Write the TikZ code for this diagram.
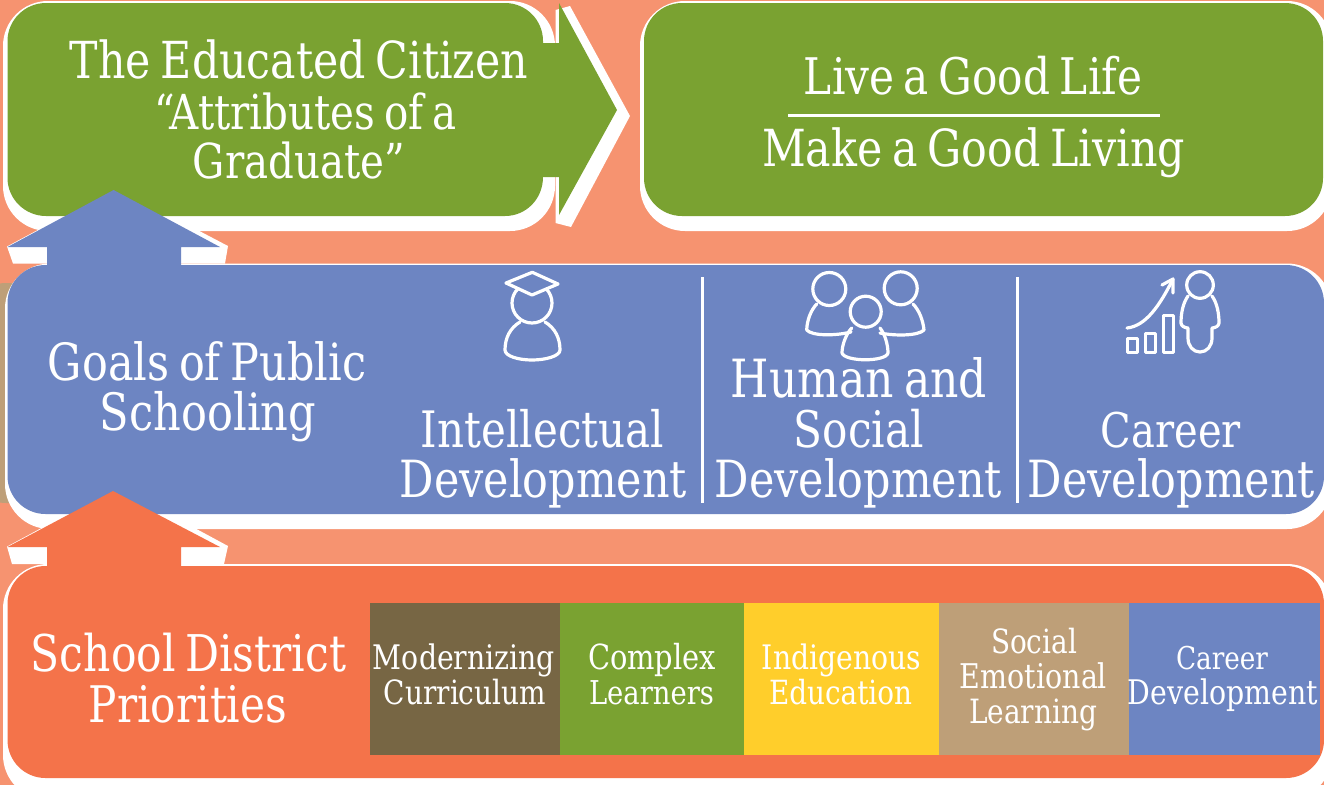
\documentclass[tikz,border=0pt]{standalone}
\usepackage{fontspec}
\usepackage{graphicx}
\setmainfont{DejaVu Serif Condensed}[WordSpace=0.72]
\definecolor{salmon}{HTML}{F69370}
\definecolor{leaf}{HTML}{7AA231}
\definecolor{bluebar}{HTML}{6D85C2}
\definecolor{orangebar}{HTML}{F4734A}
\definecolor{brownbox}{HTML}{776644}
\definecolor{yellowbox}{HTML}{FFCE2B}
\definecolor{tanbox}{HTML}{BE9F78}
\newcommand{\fitw}[2]{\resizebox{#1pt}{!}{\scalebox{0.93}[1]{#2}}}
\newcommand{\rrect}[6]{% colour x1 y1 x2 y2 r
  \pgfmathsetmacro{\kk}{#6*0.448}
  \fill[#1] (#2+#6,#3) -- (#4-#6,#3) .. controls (#4-\kk,#3) and (#4,#3+\kk) .. (#4,#3+#6)
  -- (#4,#5-#6) .. controls (#4,#5-\kk) and (#4-\kk,#5) .. (#4-#6,#5)
  -- (#2+#6,#5) .. controls (#2+\kk,#5) and (#2,#5-\kk) .. (#2,#5-#6)
  -- (#2,#3+#6) .. controls (#2,#3+\kk) and (#2+\kk,#3) .. (#2+#6,#3) -- cycle;}
\tikzset{
  tx/.style={anchor=base,inner sep=0pt,outer sep=0pt,text=white},
  icon/.style={draw=white,line width=3.2pt,line join=round,line cap=round},
  divider/.style={draw=white,line width=3pt}
}
\begin{document}
\begin{tikzpicture}[x=1pt,y=-1pt]
\useasboundingbox (0,0) rectangle (1324,785);
\clip (0,0) rectangle (1324,785);
\fill[salmon] (0,0) rectangle (1324,785);
% tan sliver behind the blue bar
\rrect{tanbox}{-30}{283}{60}{503}{36}
% white under the arrow heads
\fill[white] (113.6,186) -- (228,246) -- (225,263.5) -- (13,263.5) -- (7,246.5) -- (60,218) -- cycle;
\fill[white] (113,484) -- (228,546) -- (224,564) -- (12,564) -- (7,546.6) -- (60,518) -- cycle;
% left green arrow
\rrect{white}{3}{1}{555}{231}{45}
\fill[white] (555.5,10) -- (570,6) -- (630,116) -- (571,227) -- (555.5,223) -- cycle;
\fill[leaf] (46,3) -- (505,3) .. controls (526,3) and (543,20) .. (543,41) -- (543,43) -- (559,43) -- (559,3) -- (617,110) -- (559,215) -- (559,177) -- (543,177) .. controls (543,199) and (526,216) .. (505,216) -- (46,216) .. controls (25,216) and (7.5,199) .. (7.5,178) -- (7.5,41) .. controls (7.5,20) and (25,3) .. (46,3) -- cycle;
% right green box
\rrect{white}{640}{1}{1332}{231}{45}
\rrect{leaf}{644}{3}{1323}{216}{38}
\draw[white,line width=3pt] (788,115) -- (1160,115);
% blue bar
\rrect{white}{5}{263.5}{1332}{529}{45}
\fill[bluebar] (113.6,190) -- (220,247) -- (181,247) -- (181,270) -- (47,270) -- (47,247) -- (7.5,247) -- cycle;
\rrect{bluebar}{7.5}{265}{1324}{514}{38}
\draw[divider] (702,277) -- (702,503);
\draw[divider] (1017,277) -- (1017,503);
% orange bar
\rrect{white}{3}{564}{1332}{800}{45}
\fill[orangebar] (113,491) -- (220,547) -- (181,547) -- (181,570) -- (47,570) -- (47,547) -- (7.5,547) -- cycle;
\rrect{orangebar}{7.5}{566}{1324}{778}{38}
% priority boxes
\fill[brownbox] (370,603) rectangle (560,755);
\fill[leaf] (560,603) rectangle (744,755);
\fill[yellowbox] (744,603) rectangle (939,755);
\fill[tanbox] (939,603) rectangle (1129,755);
\fill[bluebar] (1129,603) rectangle (1320,755);
% graduate icon
\draw[icon] (532,303) circle[radius=20pt];
\draw[icon,fill=bluebar] (532.3,272.3) -- (558,284) -- (532,295) -- (506,283) -- cycle;
\draw[icon] (520,322) .. controls (510,328) and (505,338) .. (505,350) .. controls (505,356) and (518,360) .. (532,360) .. controls (546,360) and (560,356) .. (560,350) .. controls (560,338) and (555,328) .. (545,322);
% people icon
\draw[icon] (829.3,289) circle[radius=16.5pt];
\draw[icon] (900.7,288.3) circle[radius=16.5pt];
\draw[icon] (865.7,311.7) circle[radius=15.5pt];
\draw[icon] (816.7,304) .. controls (811,310) and (807,320) .. (806.7,330) .. controls (812,336) and (835,336) .. (851,332);
\draw[icon] (913,304) .. controls (919,310) and (923,320) .. (924,330) .. controls (918,336) and (895,336) .. (880,333);
\draw[icon] (851.7,328) .. controls (846,334) and (842,345) .. (842,353) .. controls (845,362) and (886,362) .. (888,353) .. controls (888,345) and (885,334) .. (880,328);
% career icon
\draw[icon,line width=3pt] (1127,338) rectangle (1137,352);
\draw[icon,line width=3pt] (1145,333) rectangle (1155,352);
\draw[icon,line width=3pt] (1163,315) rectangle (1173,352);
\draw[icon] (1127,328) .. controls (1146,326) and (1160,305) .. (1173,279);
\draw[icon] (1162,285) -- (1173,279) -- (1173,293);
\draw[icon] (1200,285) circle[radius=13.3pt];
\draw[icon] (1188,296) .. controls (1183,303) and (1181,313) .. (1181,323) .. controls (1181,326) and (1185,328) .. (1188,328) -- (1188,338) .. controls (1188,346) and (1193,352) .. (1200,352) .. controls (1207,352) and (1212,346) .. (1212,338) -- (1212,328) .. controls (1215,328) and (1219,326) .. (1219,323) .. controls (1219,313) and (1217,303) .. (1212,296);
% texts
\node[tx] (c1) at (299,78) {\fitw{458}{The Educated Citizen}};
\node[tx] (c2) at (306,129) {\fitw{302}{“Attributes of a}};
\node[tx] (c3) at (299,178) {\fitw{212}{Graduate”}};
\node[tx] (l1) at (973,94) {\fitw{338}{Live a Good Life}};
\node[tx] (l2) at (973.5,166) {\fitw{423}{Make a Good Living}};
\node[tx] (g1) at (207,380) {\fitw{318}{Goals of Public}};
\node[tx] (g2) at (208,430) {\fitw{216}{Schooling}};
\node[tx] (i1) at (542.5,447) {\fitw{243}{Intellectual}};
\node[tx] (i2) at (543.5,497) {\fitw{287}{Development}};
\node[tx] (h1) at (859,397) {\fitw{256}{Human and}};
\node[tx] (h2) at (859,447) {\fitw{130}{Social}};
\node[tx] (h3) at (858.5,497) {\fitw{287}{Development}};
\node[tx] (k1) at (1171,447) {\fitw{140}{Career}};
\node[tx] (k2) at (1171.5,497) {\fitw{287}{Development}};
\node[tx] (s1) at (188.5,671) {\fitw{315}{School District}};
\node[tx] (s2) at (188,722) {\fitw{198}{Priorities}};
\node[tx] (m1) at (464,669) {\fitw{182}{Modernizing}};
\node[tx] (m2) at (465,704) {\fitw{162}{Curriculum}};
\node[tx] (n1) at (652,669) {\fitw{128}{Complex}};
\node[tx] (n2) at (651.5,704) {\fitw{125}{Learners}};
\node[tx] (d1) at (841.5,669) {\fitw{159}{Indigenous}};
\node[tx] (d2) at (840.5,704) {\fitw{143}{Education}};
\node[tx] (e1) at (1034,653) {\fitw{86}{Social}};
\node[tx] (e2) at (1033.5,688) {\fitw{147}{Emotional}};
\node[tx] (e3) at (1033,723) {\fitw{128}{Learning}};
\node[tx] (r1) at (1222,669) {\fitw{92}{Career}};
\node[tx] (r2) at (1223,704) {\fitw{190}{Development}};
\end{tikzpicture}
\end{document}
